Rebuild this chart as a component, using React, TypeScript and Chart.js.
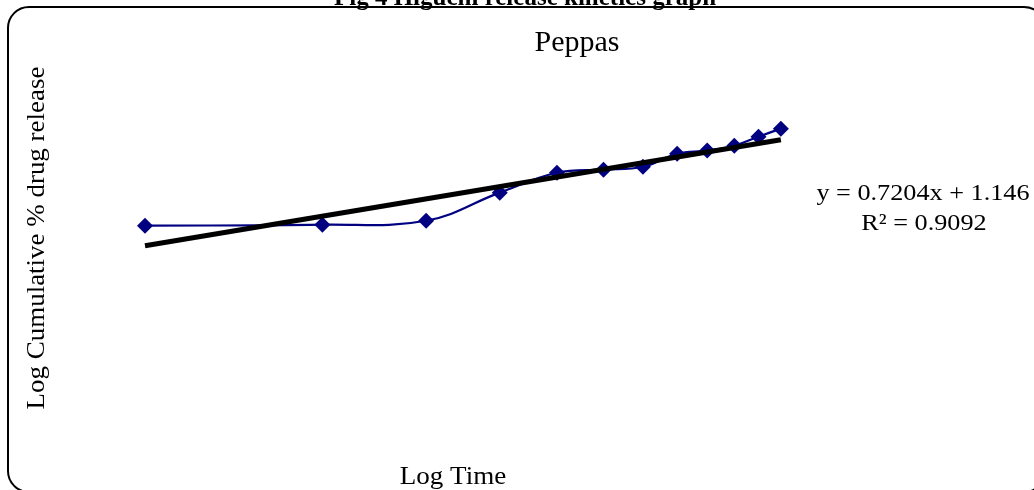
import React, { useEffect, useRef } from "react";
import { Chart, registerables } from "chart.js";

Chart.register(...registerables);

// ---- data ----
const logTime = [0, 0.301, 0.477, 0.602, 0.699, 0.778, 0.845, 0.903, 0.954, 1.0, 1.041, 1.079];
const logRelease = [1.293, 1.3, 1.329, 1.535, 1.681, 1.703, 1.725, 1.82, 1.843, 1.879, 1.945, 2.004];
const trendX = [0, 1.079];
const trendY = [1.146, 1.923];

// ---- text ----
const figTitle = "Fig 4 Higuchi release kinetics graph";
const chartTitle = "Peppas";
const xLabel = "Log Time";
const yLabel = "Log Cumulative % drug release";
const eqLines = ["y = 0.7204x + 1.146", "R² = 0.9092"];

const SERIF = "'Liberation Serif','Times New Roman',Times,serif";

function stretchedText(
  ctx: CanvasRenderingContext2D,
  text: string,
  x: number,
  y: number,
  font: string,
  sx: number,
  rotate = 0
) {
  ctx.save();
  ctx.translate(x, y);
  if (rotate) ctx.rotate(rotate);
  ctx.scale(sx, 1);
  ctx.font = font;
  ctx.fillText(text, 0, 0);
  ctx.restore();
}

const textPlugin = {
  id: "textPlugin",
  afterDraw(chart: any) {
    const ctx = chart.ctx as CanvasRenderingContext2D;
    const area = chart.chartArea;
    ctx.save();
    ctx.fillStyle = "#000";
    ctx.textBaseline = "alphabetic";
    ctx.textAlign = "center";

    // partial figure caption at the very top
    stretchedText(ctx, figTitle, 525, 5, `bold 25px ${SERIF}`, 1.0);

    // chart title
    stretchedText(ctx, chartTitle, 577, 51, `30px ${SERIF}`, 1.0);

    // x axis title
    stretchedText(ctx, xLabel, (area.left + area.right) / 2, 484, `26px ${SERIF}`, 1.04);

    // y axis title (rotated)
    ctx.save();
    ctx.textBaseline = "middle";
    stretchedText(ctx, yLabel, 38, 238, `24.5px ${SERIF}`, 1.1, -Math.PI / 2);
    ctx.restore();

    // trendline label
    stretchedText(ctx, eqLines[0], 923, 200, `23px ${SERIF}`, 1.14);
    stretchedText(ctx, eqLines[1], 924, 230, `23px ${SERIF}`, 1.14);
    ctx.restore();
  },
};

export default function App() {
  const canvasRef = useRef<HTMLCanvasElement | null>(null);

  useEffect(() => {
    const canvas = canvasRef.current;
    if (!canvas) return;
    const chart = new Chart(canvas, {
      type: "scatter",
      data: {
        datasets: [
          {
            label: "Trendline",
            data: trendX.map((x, i) => ({ x, y: trendY[i] })),
            showLine: true,
            borderColor: "#000000",
            borderWidth: 5,
            pointRadius: 0,
            order: 0,
          },
          {
            label: "Peppas",
            data: logTime.map((x, i) => ({ x, y: logRelease[i] })),
            showLine: true,
            tension: 0.4,
            borderColor: "#000080",
            backgroundColor: "#000080",
            borderWidth: 2.2,
            pointStyle: "rectRot",
            pointRadius: 8,
            pointBorderWidth: 0,
            pointBackgroundColor: "#000080",
            order: 1,
          },
        ],
      },
      options: {
        animation: false,
        responsive: false,
        layout: { padding: { left: 55, right: 183, top: 61, bottom: 88 } },
        plugins: {
          legend: { display: false },
          title: { display: false },
          tooltip: { enabled: false },
        },
        scales: {
          x: { type: "linear", display: false, min: -0.1527, max: 1.198 },
          y: { type: "linear", display: false, min: 0, max: 2.5 },
        },
      },
      plugins: [textPlugin],
    });
    return () => chart.destroy();
  }, []);

  return (
    <div
      style={{
        position: "fixed",
        left: 0,
        top: 0,
        width: 1034,
        height: 490,
        overflow: "hidden",
        background: "#fff",
      }}
    >
      <div
        style={{
          position: "absolute",
          left: 7,
          top: 6,
          width: 1039,
          height: 487,
          border: "2px solid #000",
          borderRadius: 22,
          boxSizing: "border-box",
        }}
      />
      <canvas
        ref={canvasRef}
        width={1034}
        height={490}
        style={{ position: "absolute", left: 0, top: 0, width: 1034, height: 490 }}
      />
    </div>
  );
}
